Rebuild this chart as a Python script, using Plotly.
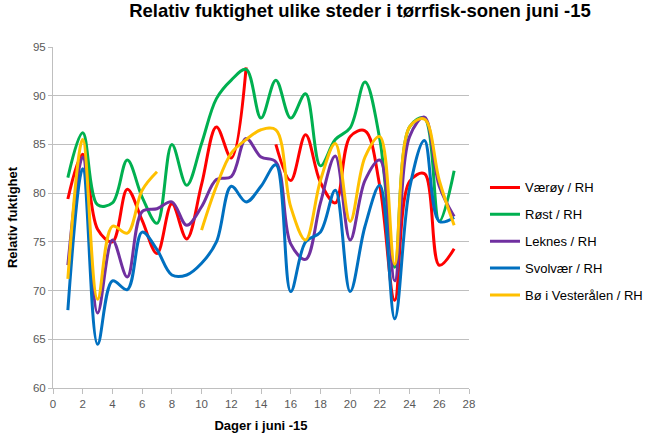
import plotly.graph_objects as go

days = list(range(1, 28))

vaeroy = [79.4, 84.0, 76.3, 75.0, 80.4, 77.2, 73.8, 78.9, 75.3, 80.9, 86.8, 83.6, 92.9, None,
          85.0, 81.3, 86.0, 81.1, 79.0, 85.8, 86.4, 80.7, 69.0, 81.2, 82.0, 72.6, 74.3]
rost = [81.6, 86.2, 78.8, 79.0, 83.4, 79.6, 76.9, 85.0, 80.8, 85.1, 89.7, 91.6, 92.7, 87.7,
        91.6, 87.7, 90.2, 82.8, 85.5, 86.7, 91.4, 85.5, 72.4, 86.8, 87.7, 77.1, 82.3]
leknes = [72.6, 83.7, 67.7, 75.2, 71.4, 78.1, 78.4, 79.1, 76.7, 78.6, 81.4, 81.7, 85.6, 83.7,
          83.2, 74.8, 73.2, 79.0, 83.8, 75.2, 81.3, 83.4, 71.0, 85.8, 87.8, 80.7, 77.6]
svolvaer = [68.0, 82.5, 64.5, 71.0, 70.1, 76.0, 74.2, 71.6, 71.6, 72.8, 75.0, 80.7, 79.1, 80.7,
            82.9, 69.9, 75.0, 76.0, 80.3, 69.9, 76.6, 80.8, 67.1, 80.5, 85.4, 77.1, 77.5]
bo = [71.2, 85.5, 69.1, 76.6, 75.9, 80.3, 82.2, None, None, 76.2, 80.7, 84.1, 85.5, 86.5,
      86.5, 78.6, 75.2, 81.3, 85.1, 77.1, 83.7, 85.8, 72.7, 86.8, 87.6, 81.3, 76.7]

series = [
    ("Værøy / RH", vaeroy, "#FF0000"),
    ("Røst / RH", rost, "#00B050"),
    ("Leknes / RH", leknes, "#7030A0"),
    ("Svolvær / RH", svolvaer, "#0070C0"),
    ("Bø i Vesterålen / RH", bo, "#FFC000"),
]

fig = go.Figure()
for i, (name, vals, col) in enumerate(series):
    fig.add_trace(go.Scatter(
        x=days, y=vals, name=name, mode="lines", legendgroup=f"g{i}",
        line=dict(color=col, width=3, shape="spline", smoothing=1.0),
        connectgaps=False,
    ))

fig.update_layout(
    width=651, height=435,
    paper_bgcolor="white", plot_bgcolor="white",
    margin=dict(l=53, r=182, t=47, b=47),
    font=dict(family="Liberation Sans, Arial, sans-serif", color="#595959", size=11.5),
    title=dict(text="<b>Relativ fuktighet ulike steder i tørrfisk-sonen juni -15</b>",
               x=0.553, xanchor="center", y=0.99, yanchor="top",
               font=dict(size=18.5, color="#000000")),
    legend=dict(xref="container", yref="container", x=0.745, y=0.445,
                xanchor="left", yanchor="middle",
                font=dict(size=13, color="#000000"), traceorder="grouped",
                tracegroupgap=7, itemwidth=30, bgcolor="rgba(0,0,0,0)"),
    showlegend=True,
)
fig.update_xaxes(range=[0, 28], dtick=2, tick0=0, showgrid=False,
                 showline=True, linecolor="#bfbfbf", linewidth=1,
                 ticks="outside", tickcolor="#bfbfbf", ticklen=5,
                 title=dict(text="<b>Dager i juni -15</b>", font=dict(size=13, color="#000000"), standoff=12),
                 zeroline=False, automargin=False)
fig.update_yaxes(range=[60, 95], dtick=5, showgrid=True, gridcolor="#bfbfbf", gridwidth=1,
                 showline=True, linecolor="#bfbfbf", linewidth=1,
                 ticks="outside", tickcolor="#bfbfbf", ticklen=4,
                 title=dict(text="<b>Relativ fuktighet</b>", font=dict(size=13, color="#000000"), standoff=12),
                 zeroline=False, automargin=False)

fig.write_html("out.html", config={"displayModeBar": False},
               post_script="document.body.style.margin='0';document.body.style.overflow='hidden';")
